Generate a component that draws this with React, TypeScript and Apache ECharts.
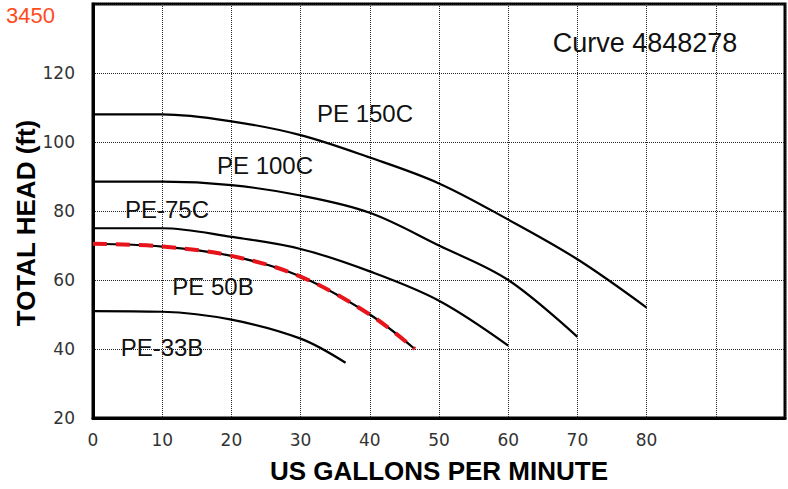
import React, { useEffect, useRef } from "react";
import * as echarts from "echarts";

const pe150cFlow = [0, 10, 20, 30, 40, 50, 60, 70, 80];
const pe150cHead = [108, 108, 106, 102, 95.5, 88, 77.5, 66, 52];
const pe100cFlow = [0, 10, 20, 30, 40, 50, 60, 70];
const pe100cHead = [88.5, 88.5, 87.5, 84.5, 79.5, 70, 60, 43.5];
const pe75cFlow = [0, 10, 20, 30, 40, 50, 60];
const pe75cHead = [75, 75, 72.5, 69, 62.5, 54, 41];
const pe50bFlow = [0, 10, 20, 30, 40, 46.5];
const pe50bHead = [70.5, 69.7, 67, 61, 50, 40];
const pe33bFlow = [0, 10, 20, 30, 36.5];
const pe33bHead = [51, 50.8, 48.5, 43, 36];

const xTickLabels = ["0", "10", "20", "30", "40", "50", "60", "70", "80"];
const yTickLabels = ["20", "40", "60", "80", "100", "120"];

const curveLabels = [
  { text: "PE 150C", x: 365, y: 113 },
  { text: "PE 100C", x: 265, y: 165 },
  { text: "PE-75C", x: 167, y: 209 },
  { text: "PE 50B", x: 213, y: 286 },
  { text: "PE-33B", x: 162, y: 347 },
];

const pairs = (xs: number[], ys: number[]) => xs.map((x, i) => [x, ys[i]]);

export default function App() {
  const ref = useRef<HTMLDivElement>(null);
  useEffect(() => {
    if (!ref.current) return;
    const chart = echarts.init(ref.current, null, { renderer: "svg" });
    const lineSeries = (name: string, data: number[][]) => ({
      name,
      type: "line",
      data,
      smooth: 0.35,
      showSymbol: false,
      lineStyle: { color: "#000", width: 2.2 },
      z: 3,
    });
    const gridLine = {
      show: true,
      lineStyle: { color: "#222", type: "dotted", width: 1 },
    };
    chart.setOption({
      animation: false,
      backgroundColor: "#fff",
      grid: {
        left: 93,
        top: 4,
        right: 0,
        bottom: 70,
        show: true,
        borderColor: "#000",
        borderWidth: 3,
      },
      xAxis: {
        type: "value",
        min: 0,
        max: 100,
        interval: 10,
        axisLine: { show: true, lineStyle: { color: "#000", width: 3 } },
        axisTick: { show: false },
        axisLabel: {
          margin: 13,
          fontFamily: "DejaVu Sans",
          fontSize: 17,
          color: "#333",
          formatter: (v: number) => {
            const s = String(v);
            return xTickLabels.includes(s) ? s : "";
          },
        },
        splitLine: gridLine,
        name: "US GALLONS PER MINUTE",
        nameLocation: "middle",
        nameGap: 40,
        nameTextStyle: {
          fontFamily: "Arial, Liberation Sans",
          fontWeight: "bold",
          fontSize: 26,
          color: "#000",
        },
      },
      yAxis: {
        type: "value",
        min: 20,
        max: 140,
        interval: 20,
        axisLine: { show: true, lineStyle: { color: "#000", width: 3 } },
        axisTick: { show: false },
        axisLabel: {
          margin: 18,
          fontFamily: "DejaVu Sans",
          fontSize: 17,
          color: "#333",
          formatter: (v: number) => {
            const s = String(v);
            return yTickLabels.includes(s) ? s : "";
          },
        },
        splitLine: gridLine,
      },
      graphic: [
        {
          type: "text",
          left: 6,
          top: 4,
          style: {
            text: "3450",
            fill: "#FF4A1A",
            font: "22px Arial, Liberation Sans",
          },
        },
        {
          type: "text",
          x: 26,
          y: 223,
          rotation: Math.PI / 2,
          style: {
            text: "TOTAL HEAD (ft)",
            fill: "#000",
            font: "bold 26px Arial, Liberation Sans",
            textAlign: "center",
            textVerticalAlign: "middle",
          },
        },
        {
          type: "text",
          x: 645,
          y: 43,
          style: {
            text: "Curve 4848278",
            fill: "#111",
            font: "27px Arial, Liberation Sans",
            textAlign: "center",
            textVerticalAlign: "middle",
          },
        },
        ...curveLabels.map((l) => ({
          type: "text",
          x: l.x,
          y: l.y,
          z: 10,
          style: {
            text: l.text,
            fill: "#111",
            font: "24px Arial, Liberation Sans",
            textAlign: "center",
            textVerticalAlign: "middle",
          },
        })),
      ],
      series: [
        lineSeries("PE 150C", pairs(pe150cFlow, pe150cHead)),
        lineSeries("PE 100C", pairs(pe100cFlow, pe100cHead)),
        lineSeries("PE 75C", pairs(pe75cFlow, pe75cHead)),
        lineSeries("PE 50B", pairs(pe50bFlow, pe50bHead)),
        lineSeries("PE 33B", pairs(pe33bFlow, pe33bHead)),
        {
          name: "PE 50B highlight",
          type: "line",
          data: pairs(pe50bFlow, pe50bHead),
          smooth: 0.35,
          showSymbol: false,
          lineStyle: { color: "#E8141C", width: 4, type: [14, 9] },
          z: 4,
        },
      ],
    });
    return () => chart.dispose();
  }, []);
  return (
    <div
      ref={ref}
      style={{ position: "fixed", left: 0, top: 0, width: 788, height: 489 }}
    />
  );
}
